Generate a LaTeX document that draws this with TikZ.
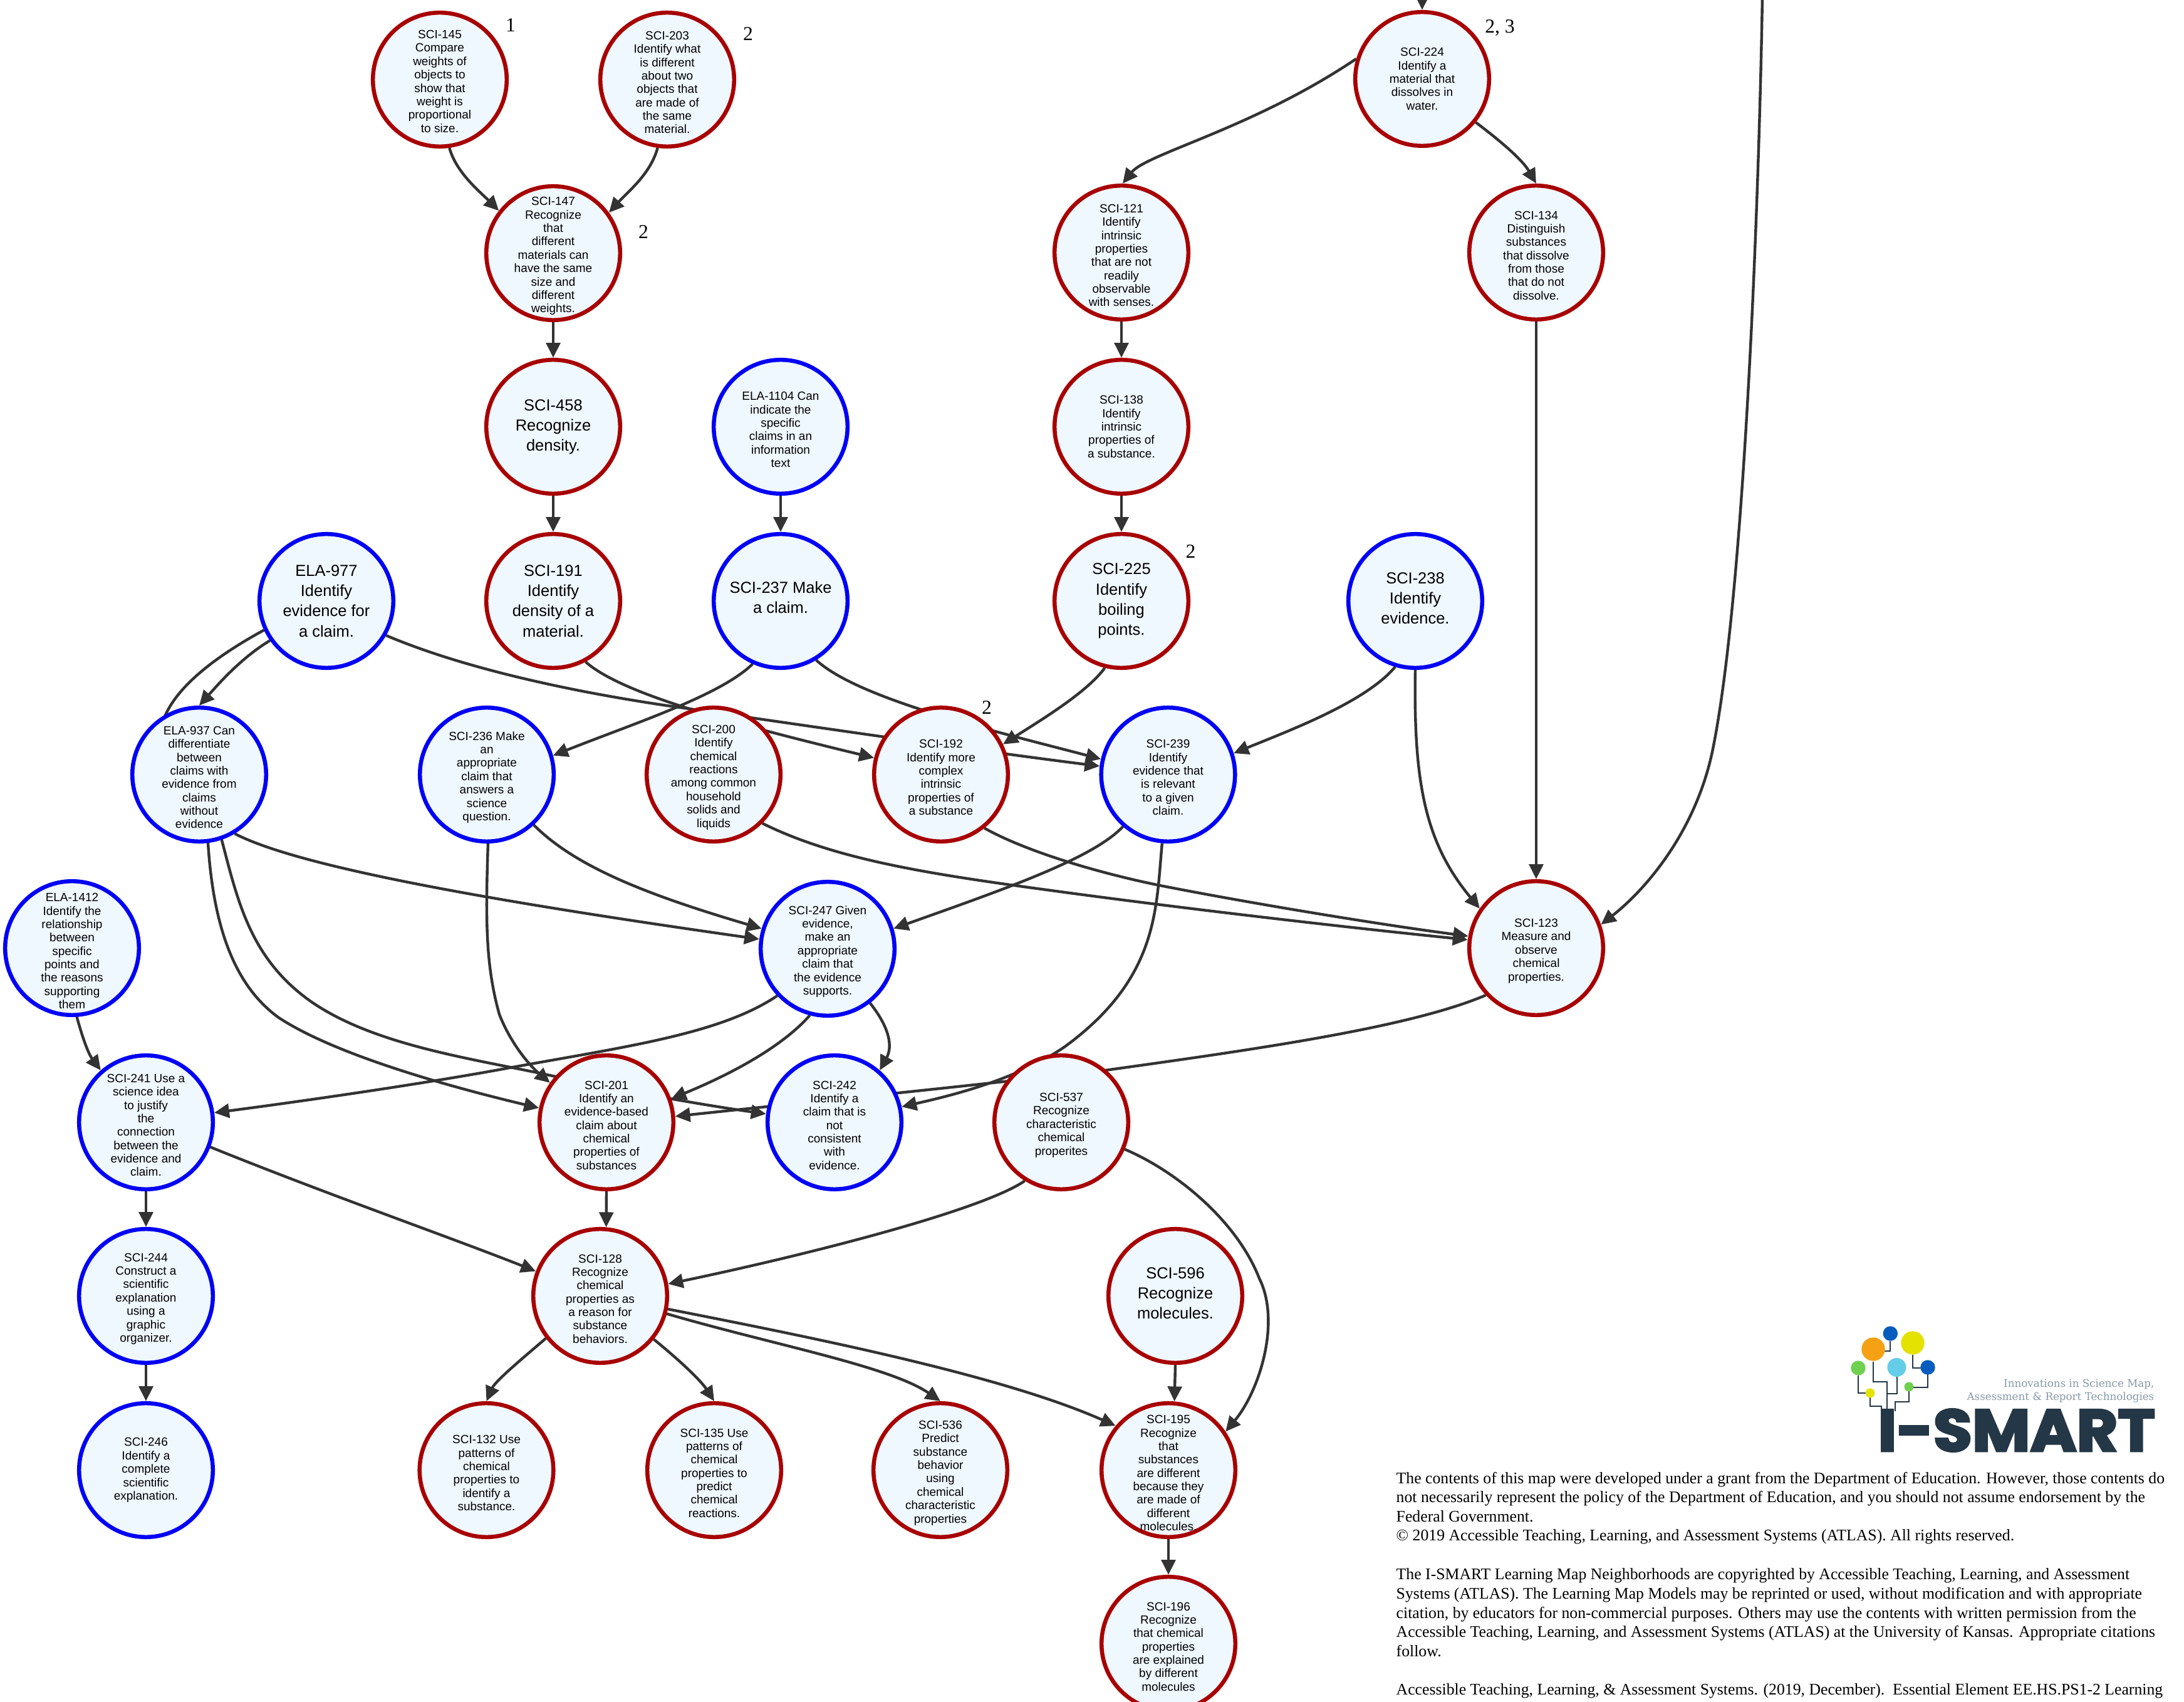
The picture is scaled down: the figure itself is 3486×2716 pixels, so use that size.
\documentclass[tikz,border=0pt]{standalone}
\usepackage{fontspec}
\usepackage{graphicx}
\usetikzlibrary{arrows.meta,backgrounds}
\setmainfont{Liberation Sans}
\newfontfamily\serifnote{Liberation Serif}
\newfontfamily\logofont[FakeBold=3.5]{Poppins}
\newfontfamily\tagfont{DejaVu Serif}
\newcommand{\topst}{\rule{0pt}{6.4pt}}
\definecolor{nodefill}{HTML}{EFF7FF}
\definecolor{redline}{HTML}{A80000}
\definecolor{blueline}{HTML}{0000F5}
\definecolor{edgegray}{HTML}{333333}
\definecolor{logonavy}{HTML}{243746}
\definecolor{taggray}{HTML}{8798A6}
\tikzset{
  circ/.style={circle,minimum size=2.135cm,inner sep=-12pt,line width=1.85pt,fill=nodefill,align=center,text=black},
  rednd/.style={circ,draw=redline},
  bluend/.style={circ,draw=blueline},
  smalltxt/.style={font=\fontsize{5.4}{6.08}\selectfont},
  bigtxt/.style={font=\fontsize{7.25}{9.15}\selectfont},
  edge/.style={draw=edgegray,line width=1.25pt,-{Triangle[length=6.8pt,width=6.4pt]}},
  numeral/.style={font=\serifnote\fontsize{9}{10}\selectfont,inner sep=0pt},
  noteline/.style={font=\serifnote\fontsize{7.32}{8.7}\selectfont,inner sep=0pt,anchor=base west},
  tagline/.style={font=\tagfont\fontsize{4.75}{5}\selectfont,text=taggray,inner sep=0pt,anchor=base east},
  wire/.style={draw=logonavy,line width=0.8pt}
}
\begin{document}
\begin{tikzpicture}[x=0.01cm,y=-0.01cm]
\path[use as bounding box] (0,0) rectangle (3486,2716);
% row 1
\node[rednd,smalltxt] (n145) at (702,127) {\rule{0pt}{5.4pt}SCI-145\\Compare\\weights of\\objects to\\show that\\weight is\\proportional\\to size.};
\node[rednd,smalltxt] (n203) at (1065,127) {\topst SCI-203\\Identify what\\is different\\about two\\objects that\\are made of\\the same\\material.};
\node[rednd,smalltxt] (n224) at (2270,126) {SCI-224\\Identify a\\material that\\dissolves in\\water.};
% row 2
\node[rednd,smalltxt] (n147) at (883,404) {\topst SCI-147\\Recognize\\that\\different\\materials can\\have the same\\size and\\different\\weights.};
\node[rednd,smalltxt] (n121) at (1790,403) {\topst SCI-121\\Identify\\intrinsic\\properties\\that are not\\readily\\observable\\with senses.};
\node[rednd,smalltxt] (n134) at (2452,403) {\topst SCI-134\\Distinguish\\substances\\that dissolve\\from those\\that do not\\dissolve.};
% row 3
\node[rednd,bigtxt] (n458) at (883,681) {SCI-458\\Recognize\\density.};
\node[bluend,smalltxt] (e1104) at (1246,681) {\topst ELA-1104 Can\\indicate the\\specific\\claims in an\\information\\text};
\node[rednd,smalltxt] (n138) at (1790,681) {SCI-138\\Identify\\intrinsic\\properties of\\a substance.};
% row 4
\node[bluend,bigtxt] (e977) at (521,959) {ELA-977\\Identify\\evidence for\\a claim.};
\node[rednd,bigtxt] (n191) at (883,959) {SCI-191\\Identify\\density of a\\material.};
\node[bluend,bigtxt,text depth=3.2pt] (n237) at (1246,959) {SCI-237 Make\\a claim.};
\node[rednd,bigtxt] (n225) at (1790,959) {SCI-225\\Identify\\boiling\\points.};
\node[bluend,bigtxt,text depth=2.5pt] (n238) at (2259,959) {SCI-238\\Identify\\evidence.};
% row 5
\node[bluend,smalltxt] (e937) at (318,1236) {\topst ELA-937 Can\\differentiate\\between\\claims with\\evidence from\\claims\\without\\evidence};
\node[bluend,smalltxt] (n236) at (777,1236) {\topst SCI-236 Make\\an\\appropriate\\claim that\\answers a\\science\\question.};
\node[rednd,smalltxt] (n200) at (1139,1236) {\topst SCI-200\\Identify\\chemical\\reactions\\among common\\household\\solids and\\liquids};
\node[rednd,smalltxt] (n192) at (1502,1236) {\topst SCI-192\\Identify more\\complex\\intrinsic\\properties of\\a substance};
\node[bluend,smalltxt] (n239) at (1864.5,1236) {\topst SCI-239\\Identify\\evidence that\\is relevant\\to a given\\claim.};
% row 6
\node[bluend,smalltxt] (e1412) at (115,1513) {\topst ELA-1412\\Identify the\\relationship\\between\\specific\\points and\\the reasons\\supporting\\them};
\node[bluend,smalltxt] (n247) at (1321,1514) {\topst SCI-247 Given\\evidence,\\make an\\appropriate\\claim that\\the evidence\\supports.};
\node[rednd,smalltxt] (n123) at (2452,1513) {\topst SCI-123\\Measure and\\observe\\chemical\\properties.};
% row 7
\node[bluend,smalltxt] (n241) at (233,1791) {\topst SCI-241 Use a\\science idea\\to justify\\the\\connection\\between the\\evidence and\\claim.};
\node[rednd,smalltxt] (n201) at (968,1791) {\topst SCI-201\\Identify an\\evidence-based\\claim about\\chemical\\properties of\\substances};
\node[bluend,smalltxt] (n242) at (1332,1791) {\topst SCI-242\\Identify a\\claim that is\\not\\consistent\\with\\evidence.};
\node[rednd,smalltxt] (n537) at (1694,1791) {\topst SCI-537\\Recognize\\characteristic\\chemical\\properites};
% row 8
\node[bluend,smalltxt] (n244) at (233,2068) {\topst SCI-244\\Construct a\\scientific\\explanation\\using a\\graphic\\organizer.};
\node[rednd,smalltxt] (n128) at (958,2068) {\topst SCI-128\\Recognize\\chemical\\properties as\\a reason for\\substance\\behaviors.};
\node[rednd,bigtxt,text depth=2.5pt] (n596) at (1876,2068) {SCI-596\\Recognize\\molecules.};
% row 9
\node[bluend,smalltxt] (n246) at (233,2346) {SCI-246\\Identify a\\complete\\scientific\\explanation.};
\node[rednd,smalltxt] (n132) at (776.5,2346) {\topst SCI-132 Use\\patterns of\\chemical\\properties to\\identify a\\substance.};
\node[rednd,smalltxt] (n135) at (1140,2346) {\topst SCI-135 Use\\patterns of\\chemical\\properties to\\predict\\chemical\\reactions.};
\node[rednd,smalltxt] (n536) at (1501,2346) {\topst SCI-536\\Predict\\substance\\behavior\\using\\chemical\\characteristic\\properties};
\node[rednd,smalltxt] (n195) at (1865,2346) {\topst SCI-195\\Recognize\\that\\substances\\are different\\because they\\are made of\\different\\molecules.};
% row 10
\node[rednd,smalltxt] (n196) at (1865,2623) {\topst SCI-196\\Recognize\\that chemical\\properties\\are explained\\by different\\molecules};
% numerals
\node[numeral] (m145) at (815,40) {1};
\node[numeral] (m203) at (1194,54) {2};
\node[numeral] (m147) at (1027,370) {2};
\node[numeral] (m224) at (2394,44) {2, 3};
\node[numeral] (m225) at (1900.5,880) {2};
\node[numeral] (m192) at (1575,1129) {2};
% free ends
\coordinate (top224) at (2270,-6);
\coordinate (top123) at (2813,-6);
\begin{scope}[on background layer]
\fill[white] (0,0) rectangle (3486,2716);
\draw[edge] (n145.278) .. controls (728,275) and (765,305) .. (n147.142.6);
\draw[edge] (n203.262) .. controls (1038,278) and (1003,305) .. (n147.36.8);
\draw[edge] (n147.south) -- (n458.north);
\draw[edge] (n458.south) -- (n191.north);
\draw[edge] (e1104.south) -- (n237.north);
\draw[edge] (n121.south) -- (n138.north);
\draw[edge] (n138.south) -- (n225.north);
\draw[edge] (top224) -- (n224.north);
\draw[edge] (n224.163.6) .. controls (2000,205) and (1830,245) .. (n121.89);
\draw[edge] (n224.321.6) .. controls (2395,225) and (2430,255) .. (n134.north);
\draw[edge] (n134.south) -- (n123.north);
\draw[edge] (top123) .. controls (2808,300) and (2785,950) .. (2733,1200) .. controls (2705,1330) and (2625,1421) .. (n123.20);
\draw[edge] (n238.253.5) .. controls (2180,1120) and (2060,1165) .. (n239.18.5);
\draw[edge] (n238.270) .. controls (2256,1250) and (2275,1345) .. (n123.145);
\draw[edge] (n225.256.7) .. controls (1735,1105) and (1660,1150) .. (n192.26);
\draw[edge] (n237.246) .. controls (1150,1110) and (1010,1155) .. (n236.16.5);
\draw[edge] (n237.301.5) .. controls (1370,1115) and (1580,1165) .. (n239.167.3);
\draw[edge] (e977.330.4) .. controls (760,1075) and (960,1112) .. (1100,1131) .. controls (1300,1160) and (1560,1198) .. (n239.173.7);
\draw[edge] (n191.298.7) .. controls (990,1105) and (1150,1150) .. (n192.166.7);
\draw[edge] (e977.215) .. controls (385,1050) and (350,1090) .. (e937.90);
\draw[edge] (e977.205.6) .. controls (340,1050) and (285,1095) .. (264,1141) .. controls (300,1200) and (325,1280) .. (332,1345) .. controls (340,1470) and (370,1570) .. (445,1624) .. controls (530,1680) and (700,1730) .. (n201.168.4);
\draw[edge] (e937.289.3) .. controls (380,1440) and (400,1530) .. (496,1598) .. controls (600,1670) and (760,1690) .. (887,1718) .. controls (950,1732) and (1100,1760) .. (n242.173.6);
\draw[edge] (n236.271) .. controls (775,1470) and (775,1540) .. (797,1618.6) .. controls (815,1665) and (845,1700) .. (n201.145.4);
\draw[edge] (e937.301.2) .. controls (480,1385) and (800,1440) .. (n247.172.6);
\draw[edge] (n236.313.2) .. controls (920,1385) and (1040,1430) .. (n247.163);
\draw[edge] (n239.229.7) .. controls (1745,1370) and (1600,1420) .. (n247.17);
\draw[edge] (n239.265) .. controls (1845,1450) and (1850,1560) .. (1700,1670) .. controls (1620,1725) and (1510,1750) .. (n242.13);
\draw[edge] (n247.223) .. controls (1150,1650) and (1000,1670) .. (813,1704) .. controls (690,1727) and (500,1755) .. (n241.8.3);
\draw[edge] (n247.255) .. controls (1240,1680) and (1140,1725) .. (n201.20.8);
\draw[edge] (n247.308.7) .. controls (1420,1640) and (1425,1670) .. (n242.49.4);
\draw[edge] (n123.223.5) .. controls (2250,1640) and (2000,1675) .. (1764,1708) .. controls (1500,1738) and (1250,1763) .. (n201.5.4);
\draw[edge] (n537.238.5) .. controls (1570,1930) and (1300,2000) .. (n128.10);
\draw[edge] (n537.337) .. controls (1880,1870) and (1975,1950) .. (2010,2040) .. controls (2045,2110) and (2010,2220) .. (n195.34.6);
\draw[edge] (n241.339.6) .. controls (520,1905) and (720,1975) .. (n128.159.6);
\draw[edge] (n241.south) -- (n244.north);
\draw[edge] (n244.south) -- (n246.north);
\draw[edge] (e1412.274) .. controls (130,1650) and (140,1680) .. (n241.131.4);
\draw[edge] (n201.south) -- (n128.85.6);
\draw[edge] (n128.218.7) .. controls (825,2175) and (790,2205) .. (n132.north);
\draw[edge] (n128.321.4) .. controls (1090,2175) and (1120,2205) .. (n135.north);
\draw[edge] (n128.345) .. controls (1230,2145) and (1420,2180) .. (n536.north);
\draw[edge] (n128.349.6) .. controls (1300,2135) and (1600,2195) .. (n195.140.6);
\draw[edge] (n596.south) -- (n195.85);
\draw[edge] (n195.south) -- (n196.north);
\draw[edge] (n200.315) .. controls (1340,1375) and (1500,1397) .. (1700,1424) .. controls (1900,1451) and (2150,1480) .. (n123.173.6);
\draw[edge] (n192.309) .. controls (1640,1360) and (1760,1395) .. (1859,1414.5) .. controls (2000,1442) and (2200,1475) .. (n123.170.3);
\end{scope}
% logo
\draw[wire] (2990,2173) -- (2990,2205) -- (3012,2205) -- (3012,2252);
\draw[wire] (3017,2140) -- (3017,2156) -- (3008,2156);
\draw[wire] (3053,2162) -- (3053,2183) -- (3066,2183);
\draw[wire] (2966,2195) -- (2966,2223) -- (2978,2223);
\draw[wire] (2985,2230) -- (2985,2244) -- (3003,2244) -- (3003,2252);
\draw[wire] (3028,2196) -- (3028,2224) -- (3012,2224);
\draw[wire] (3047,2220) -- (3047,2237) -- (3025,2237) -- (3025,2252);
\draw[wire] (3077,2193) -- (3077,2214) -- (3054,2214);
\fill[color={rgb,255:red,246;green,160;blue,20}] (2990,2153) circle (18.7);
\fill[color={rgb,255:red,5;green,92;blue,190}] (3017.3,2128) circle (11.7);
\fill[color={rgb,255:red,228;green,226;blue,0}] (3053,2143) circle (18.7);
\fill[color={rgb,255:red,112;green,208;blue,80}] (2966,2183) circle (11.7);
\fill[color={rgb,255:red,100;green,205;blue,232}] (3027.4,2182) circle (15);
\fill[color={rgb,255:red,5;green,92;blue,190}] (3077,2182) circle (11.7);
\fill[color={rgb,255:red,228;green,226;blue,0}] (2985,2223) circle (7.5);
\fill[color={rgb,255:red,112;green,208;blue,80}] (3047,2213) circle (7.5);
\node[anchor=south west,inner sep=0pt,text=logonavy] (logoword) at (2997,2317) {\resizebox{4.42cm}{0.67cm}{\logofont\bfseries I-SMART}};
\node[tagline] (tag1) at (3439,2213) {Innovations in Science Map,};
\node[tagline] (tag2) at (3439,2234) {Assessment \& Report Technologies};
% note
\node[noteline] (l1) at (2228,2367) {The contents of this map were developed under a grant from the Department of Education. However, those contents do};
\node[noteline] (l2) at (2228,2397.5) {not necessarily represent the policy of the Department of Education, and you should not assume endorsement by the};
\node[noteline] (l3) at (2228,2428) {Federal Government.};
\node[noteline] (l4) at (2228,2458.7) {© 2019 Accessible Teaching, Learning, and Assessment Systems (ATLAS). All rights reserved.};
\node[noteline] (l5) at (2228,2520) {The I-SMART Learning Map Neighborhoods are copyrighted by Accessible Teaching, Learning, and Assessment};
\node[noteline] (l6) at (2228,2551) {Systems (ATLAS). The Learning Map Models may be reprinted or used, without modification and with appropriate};
\node[noteline] (l7) at (2228,2582) {citation, by educators for non-commercial purposes. Others may use the contents with written permission from the};
\node[noteline] (l8) at (2228,2612) {Accessible Teaching, Learning, and Assessment Systems (ATLAS) at the University of Kansas. Appropriate citations};
\node[noteline] (l9) at (2228,2643) {follow.};
\node[noteline] (l10) at (2228,2704) {Accessible Teaching, Learning, \& Assessment Systems. (2019, December).\ \ Essential Element EE.HS.PS1-2 Learning};
\end{tikzpicture}
\end{document}
